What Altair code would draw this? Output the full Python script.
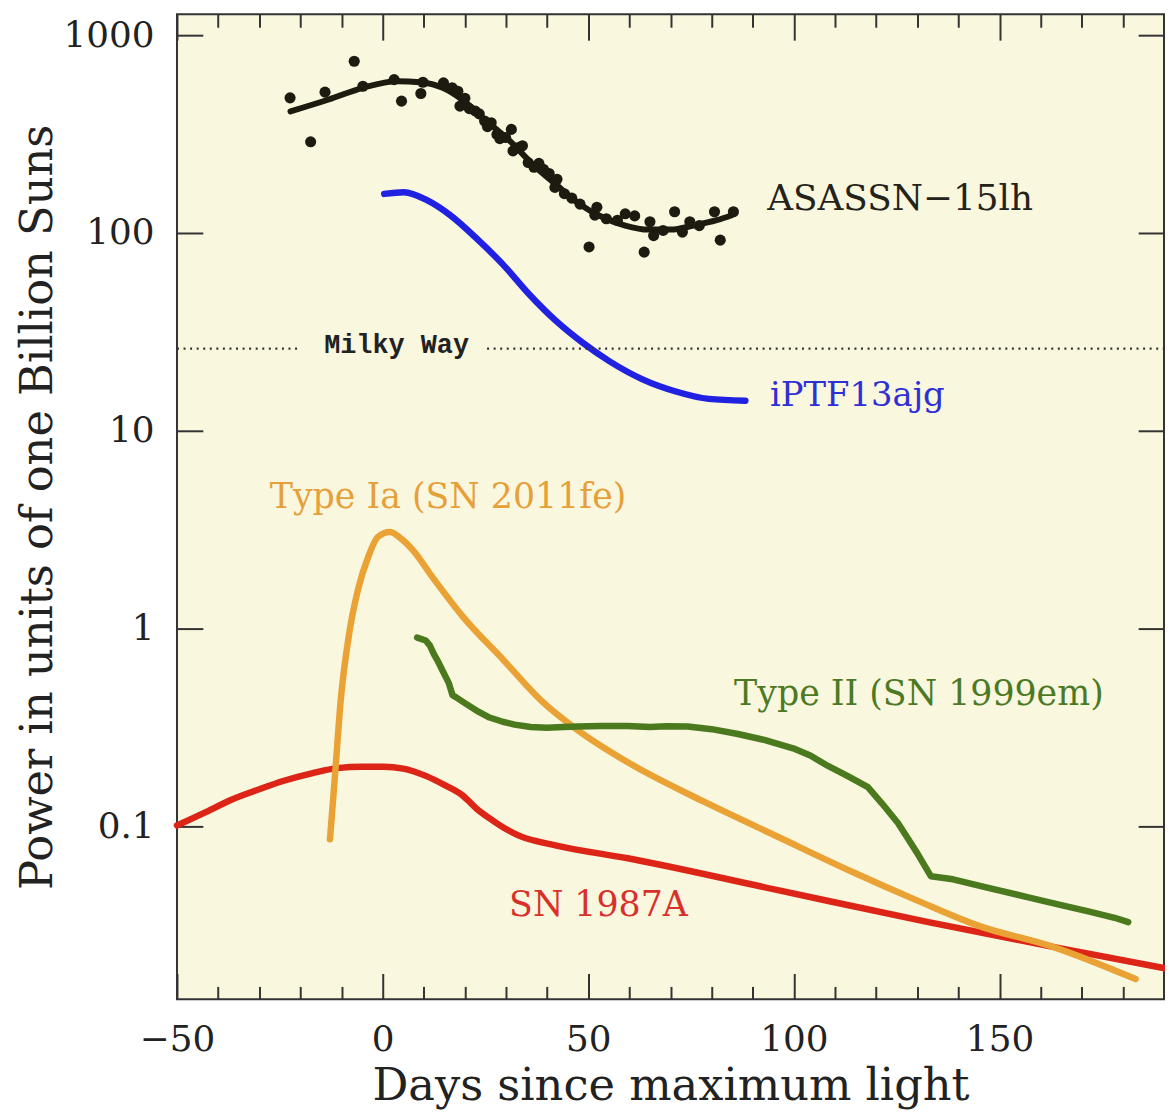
import altair as alt
import pandas as pd

# ---------------- data ----------------
ASAS_PT_DAY = [-22.5, -17.5, -14.0, -6.9, -4.8, 2.8, 4.6, 9.3, 9.8, 14.8, 16.9, 18.3, 18.8, 20.0,
               21.1, 22.5, 23.5, 24.8, 25.5, 26.4, 27.8, 28.5, 29.9, 31.3, 31.7, 33.0, 34.0, 35.4,
               36.8, 38.0, 39.1, 40.5, 41.9, 42.4, 44.2, 46.0, 48.0, 50.2, 51.6, 52.1, 54.4, 57.1,
               59.0, 61.3, 63.6, 65.0, 65.9, 68.2, 71.0, 72.9, 74.7, 77.0, 80.7, 82.1, 85.3]
ASAS_PT_VAL = [482, 289, 515, 738, 552, 596, 464, 507, 578, 574, 542, 521, 438, 480,
               425, 414, 400, 368, 345, 361, 315, 300, 304, 334, 260, 270, 276, 227,
               215, 225, 210, 200, 170, 187, 158, 150, 140, 85, 123, 135, 118, 116,
               125, 122, 80, 114, 97, 103, 128, 101, 114, 109, 128, 92, 128]

ASAS_FIT_DAY = [-22.4, -13.1, -4.8, 3.5, 9.1, 14.6, 19.3, 24.8, 31.3, 36.8, 42.4, 47.9, 53.5,
                59.0, 64.5, 70.1, 75.6, 81.2, 84.9]
ASAS_FIT_VAL = [412, 473, 542, 585, 578, 542, 473, 375, 287, 219, 174, 140, 120,
                109, 104, 104, 109, 116, 123]

IPTF_DAY = [0.4, 5.2, 10.9, 16.5, 22.9, 29.4, 35.8, 42.3, 48.7, 55.1, 63.2, 71.3, 79.3, 88.2]
IPTF_VAL = [157.6, 160.7, 146, 122.7, 93.6, 68.8, 48.6, 35.7, 27.8, 22.5, 18.2, 15.8, 14.5, 14.2]

IA_DAY = [-12.8, -11.5, -10.2, -8.0, -5.9, -3.5, -1.2, 1.8, 4.5, 7.3, 12.2, 19.5, 29.2,
          38.9, 47.5, 59.6, 77.9, 96.1, 114.4, 130.2, 144.8, 163.0, 183.1]
IA_VAL = [0.086, 0.19, 0.43, 0.98, 1.6, 2.3, 2.9, 3.08, 2.85, 2.5, 1.81, 1.15, 0.70,
          0.426, 0.306, 0.211, 0.134, 0.0886, 0.0586, 0.042, 0.0315, 0.0246, 0.0169]

II_DAY = [8.4, 10.5, 11.5, 12.5, 13.5, 14.8, 16.1, 17.0, 17.8, 20.0, 23.3, 26.0, 29.2, 32.1,
          36.0, 39.9, 44.0, 47.5, 53.0, 59.6, 65.0, 69.0, 74.2, 80.0, 86.4, 93.0, 99.8,
          104.0, 108.3, 113.0, 118.0, 121.5, 125.3, 128.0, 130.2, 133.3, 138.7, 147.0,
          157.0, 165.0, 171.6, 178.0, 181.3]
II_VAL = [0.90, 0.87, 0.82, 0.74, 0.68, 0.60, 0.53, 0.46, 0.45, 0.42, 0.38, 0.355, 0.338, 0.327,
          0.318, 0.315, 0.318, 0.32, 0.322, 0.322, 0.318, 0.321, 0.32, 0.31, 0.293, 0.273, 0.248,
          0.228, 0.202, 0.180, 0.158, 0.13, 0.104, 0.085, 0.072, 0.056, 0.054, 0.049,
          0.0438, 0.040, 0.0372, 0.0345, 0.0328]

SN87_DAY = [-50, -43, -36.9, -30, -24, -17, -11, -5, 0.2, 5, 10.5, 15, 19.5, 23, 26.8, 30, 33,
            42.3, 59.6, 96.1, 132.7, 163, 190]
SN87_VAL = [0.101, 0.118, 0.136, 0.154, 0.170, 0.186, 0.197, 0.200, 0.200, 0.196, 0.180, 0.162,
            0.143, 0.122, 0.107, 0.097, 0.090, 0.080, 0.069, 0.0476, 0.0328, 0.0246, 0.0192]

MILKY_WAY = 26.0
MW_SEG_START = [-50, 25.4]
MW_SEG_END = [-20.1, 190]

LABELS = ["ASASSN\u221215lh", "iPTF13ajg", "Type Ia (SN 2011fe)", "Type II (SN 1999em)", "SN 1987A", "Milky Way"]
LABEL_DAY = [93.5, 94.2, 15.9, 130.4, 52.5, 3.4]
LABEL_VAL = [148, 15.0, 4.6, 0.466, 0.040, 27.0]

X_DOMAIN = [-50, 190]
Y_DOMAIN = [0.01335, 1275]
MAJOR_X = [-50, 0, 50, 100, 150]
MINOR_X = [-40, -30, -20, -10, 10, 20, 30, 40, 60, 70, 80, 90, 110, 120, 130, 140, 160, 170, 180]
MAJOR_Y = [0.1, 1, 10, 100, 1000]

# ---------------- styling ----------------
SERIF = "DejaVu Serif"
AX = "#333333"
BG = "#faf7df"
W, H = 993, 991

xscale = alt.Scale(domain=X_DOMAIN, nice=False, zero=False)
yscale = alt.Scale(type="log", domain=Y_DOMAIN, nice=False)

common_ax = dict(domain=False, grid=False, tickColor=AX, tickWidth=2, labelFlush=False,
                 labelOverlap=False)

ax_bottom = alt.Axis(orient="bottom", values=MAJOR_X, offset=-26, tickSize=26, format="d",
                     labelFont=SERIF, labelFontSize=36, labelColor="#222", labelPadding=23,
                     title="Days since maximum light", titleFont=SERIF, titleFontSize=45,
                     titleFontWeight="normal", titleColor="#222", titleBaseline="alphabetic",
                     titleAlign="center", titleX=W / 2, titleY=127, **common_ax)
ax_bottom_minor = alt.Axis(orient="bottom", values=MINOR_X, offset=-13, tickSize=13,
                           labels=False, title=None, **common_ax)
ax_top = alt.Axis(orient="top", values=MAJOR_X, offset=-26, tickSize=26, labels=False,
                  title=None, **common_ax)
ax_top_minor = alt.Axis(orient="top", values=MINOR_X, offset=-13, tickSize=13, labels=False,
                        title=None, **common_ax)
ax_left = alt.Axis(orient="left", values=MAJOR_Y, offset=-26, tickSize=26, format="~g",
                   labelFont=SERIF, labelFontSize=36, labelColor="#222", labelPadding=23,
                   title="Power in units of one Billion Suns", titleFont=SERIF, titleFontSize=45,
                   titleFontWeight="normal", titleColor="#222", titleAngle=270,
                   titleBaseline="alphabetic", titleAlign="center", titleX=-152, titleY=H / 2,
                   **common_ax)
ax_right = alt.Axis(orient="right", values=MAJOR_Y, offset=-26, tickSize=26, labels=False,
                    title=None, **common_ax)


def xe(axis=None):
    return alt.X("day:Q", scale=xscale, axis=axis)


def ye(axis=None):
    return alt.Y("val:Q", scale=yscale, axis=axis)


def line(days, vals, color, width, interp, xaxis=None, yaxis=None):
    df = pd.DataFrame({"day": days, "val": vals})
    return alt.Chart(df).mark_line(color=color, strokeWidth=width, interpolate=interp,
                                   strokeCap="round", strokeJoin="round").encode(
        x=xe(xaxis), y=ye(yaxis))


red = line(SN87_DAY, SN87_VAL, "#dc2417", 6.5, "monotone", ax_bottom, ax_left)
orange = line(IA_DAY, IA_VAL, "#eaa235", 6.5, "monotone", ax_bottom_minor, ax_right)
green = line(II_DAY, II_VAL, "#4b7a1e", 6.5, "linear", ax_top, None)
blue = line(IPTF_DAY, IPTF_VAL, "#2121e2", 6.5, "monotone", ax_top_minor, None)
fit = line(ASAS_FIT_DAY, ASAS_FIT_VAL, "#1d1b10", 6, "monotone")

pts = alt.Chart(pd.DataFrame({"day": ASAS_PT_DAY, "val": ASAS_PT_VAL})).mark_circle(
    size=125, color="#1d1b10", opacity=1).encode(x=xe(), y=ye())

mw_df = pd.DataFrame({"day": MW_SEG_START, "day2": MW_SEG_END, "val": [MILKY_WAY] * 2})
mw = alt.Chart(mw_df).mark_rule(color="#333", strokeWidth=2.2, strokeDash=[2, 4.6]).encode(
    x=xe(), x2="day2:Q", y=ye())

lab_df = pd.DataFrame({"label": LABELS, "day": LABEL_DAY, "val": LABEL_VAL})


def text(i, color, size, align="center", font=SERIF, weight="normal"):
    return alt.Chart(lab_df.iloc[[i]]).mark_text(
        color=color, fontSize=size, align=align, baseline="middle", font=font,
        fontWeight=weight).encode(x=xe(), y=ye(), text="label:N")


texts = [
    text(0, "#24231a", 36, "left"),
    text(1, "#2f2fd6", 34, "left"),
    text(2, "#e6a03a", 35),
    text(3, "#4c7a24", 35),
    text(4, "#d8302a", 35),
    text(5, "#222222", 27, "center", "Liberation Mono", "bold"),
]

chart = alt.layer(red, orange, green, blue, mw, fit, pts, *texts).resolve_axis(
    x="independent", y="independent"
).properties(
    width=W, height=H,
    padding={"left": 170, "top": 3, "right": 1, "bottom": 112},
    autosize=alt.AutoSizeParams(type="none"),
    view=alt.ViewBackground(fill=BG, stroke=AX, strokeWidth=2),
).configure_view(
    fill=BG, stroke=AX, strokeWidth=2
).configure(background="white")

chart.save("out.html", embed_options={"renderer": "svg", "actions": False})
